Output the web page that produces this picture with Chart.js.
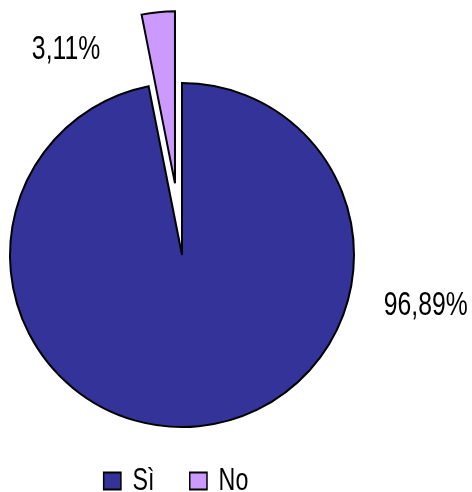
<!DOCTYPE html>
<html>
<head>
<meta charset="utf-8">
<script src="https://cdn.jsdelivr.net/npm/chart.js@4/dist/chart.umd.min.js"></script>
<style>
  html, body { margin: 0; padding: 0; background: #ffffff; }
  #wrap { width: 472px; height: 492px; position: relative; }
</style>
</head>
<body>
<div id="wrap"><canvas id="c" width="472" height="492"></canvas></div>
<script>
// ---- data ----
const categories = ['Sì', 'No'];
const values = [96.89, 3.11];

// ---- style ----
const sliceColors = ['#333399', '#CC99FF'];
const explodePx = [0, 72];           // pull-out distance per slice
const labelPolar = [                 // label anchor: angle (deg, canvas) & extra distance beyond radius
  { angle: 11.8, extra: 77 },
  { angle: -119.5, extra: 63.5 }
];
const FONT = "'Liberation Sans', Arial, sans-serif";
const NARROW = 0.75;                 // horizontal condensing of text (Arial Narrow look)
const LEGEND_SHIFT_X = -6;

function fmtPct(v) { return v.toFixed(2).replace('.', ',') + '%'; }

const explodePlugin = {
  id: 'explodeSlices',
  beforeDatasetDraw(chart, args) {
    args.meta.data.forEach((arc, i) => {
      const d = explodePx[i] || 0;
      if (!d || arc.__wrapped) return;
      const orig = arc.draw;
      arc.draw = function (ctx, area) {
        const mid = (this.startAngle + this.endAngle) / 2;
        ctx.save();
        ctx.translate(Math.cos(mid) * d, Math.sin(mid) * d);
        orig.call(this, ctx, area);
        ctx.restore();
      };
      arc.__wrapped = true;
    });
  }
};

const narrowLegendPlugin = {
  id: 'narrowLegend',
  beforeDraw(chart) {
    const lg = chart.legend;
    if (!lg || lg.__wrapped) return;
    const orig = lg.draw;
    lg.draw = function () {
      const ctx = this.ctx;
      const px = (this.left + this.right) / 2;
      ctx.save();
      ctx.translate(px + LEGEND_SHIFT_X, 0);
      ctx.scale(NARROW, 1);
      ctx.translate(-px, 0);
      orig.apply(this, arguments);
      ctx.restore();
    };
    lg.__wrapped = true;
  }
};

const labelPlugin = {
  id: 'pctLabels',
  afterDatasetsDraw(chart) {
    const ctx = chart.ctx;
    const meta = chart.getDatasetMeta(0);
    meta.data.forEach((arc, i) => {
      const p = labelPolar[i];
      const a = p.angle * Math.PI / 180;
      const r = arc.outerRadius + p.extra;
      const x = arc.x + Math.cos(a) * r;
      const y = arc.y + Math.sin(a) * r;
      ctx.save();
      ctx.translate(x, y);
      ctx.scale(NARROW, 1);
      ctx.fillStyle = '#000';
      ctx.font = '33px ' + FONT;
      ctx.textAlign = 'center';
      ctx.textBaseline = 'middle';
      ctx.fillText(fmtPct(values[i]), 0, 0);
      ctx.restore();
    });
  }
};

new Chart(document.getElementById('c'), {
  type: 'pie',
  data: {
    labels: categories,
    datasets: [{
      data: values,
      backgroundColor: sliceColors,
      borderColor: '#000000',
      borderWidth: 2,
      borderJoinStyle: 'miter',
      clip: false
    }]
  },
  options: {
    responsive: false,
    animation: false,
    events: [],
    radius: 172,
    layout: { padding: { left: 0, right: 108, top: 91.5, bottom: -14.5 } },
    plugins: {
      tooltip: { enabled: false },
      legend: {
        display: true,
        position: 'bottom',
        align: 'center',
        labels: {
          color: '#000',
          font: { family: FONT, size: 31 },
          boxWidth: 23,
          boxHeight: 17,
          padding: 47
        }
      }
    }
  },
  plugins: [explodePlugin, labelPlugin, narrowLegendPlugin]
});
</script>
</body>
</html>
